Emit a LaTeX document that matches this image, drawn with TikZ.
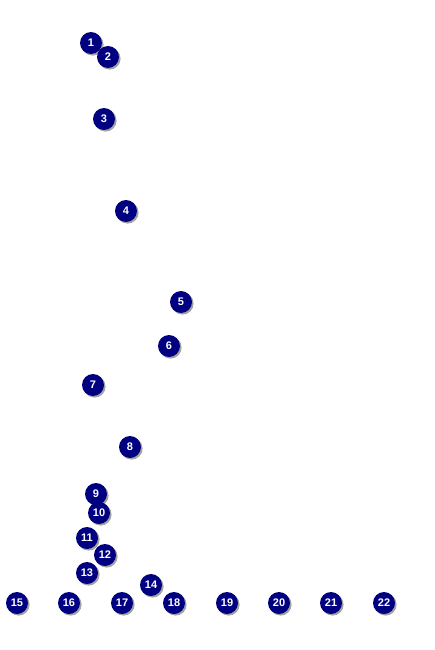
\documentclass[tikz,border=0pt]{standalone}
\usepackage{fontspec}
\setsansfont{Liberation Sans}
\usetikzlibrary{shadows}
\definecolor{ballblue}{RGB}{0,0,128}

\begin{document}
\begin{tikzpicture}[x=1pt,y=-1pt,
  ball/.style={circle,fill=ballblue,text=white,inner sep=0pt,minimum size=22pt,
    font=\sffamily\bfseries\fontsize{11}{13}\selectfont,
    drop shadow={shadow xshift=1.6pt,shadow yshift=-1.6pt,fill=black!45,opacity=.8}}]
\useasboundingbox (0,0) rectangle (435,650);
\foreach \n/\x/\y in {1/91/43,2/108/57,3/104/119,4/126/211,5/181/302,6/169/346,
  7/93/385,8/130/447,9/96/494,10/99/513,11/87/538,12/105/555,13/87/573,14/151/585}{
  \node[ball] (b\n) at (\x,\y) {\n};
}
\foreach \n/\x in {15/17,16/69,17/122,18/174,19/227,20/279,21/331,22/384}{
  \node[ball] (b\n) at (\x,603) {\n};
}
\end{tikzpicture}
\end{document}
